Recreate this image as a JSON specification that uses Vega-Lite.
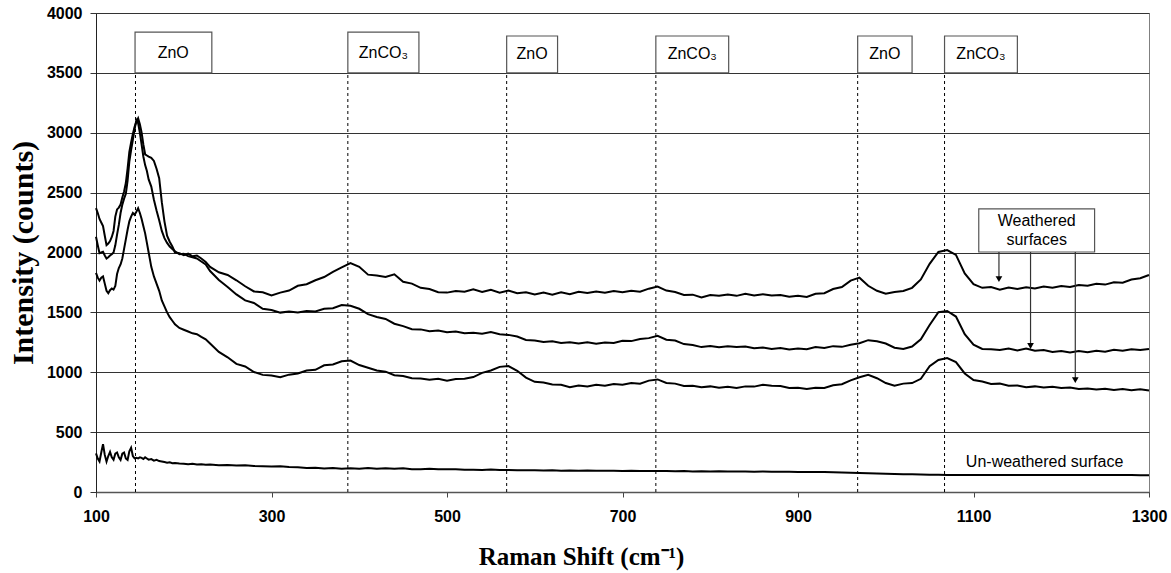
{
  "$schema": "https://vega.github.io/schema/vega-lite/v6.json",
  "autosize": {"type": "none"},
  "width": 1053,
  "height": 479,
  "padding": {"left": 96, "top": 13, "right": 22, "bottom": 81},
  "background": "white",
  "config": {"view": {"stroke": "#808080", "strokeWidth": 1}, "font": "Liberation Sans"},
  "datasets": {
    "spectra": [
      {"x":100,"A":2371,"B":2132,"C":1830,"D":323},
      {"x":102,"A":2330,"B":2060,"C":1790,"D":280},
      {"x":104,"A":2280,"B":1995,"C":1765,"D":255},
      {"x":106,"A":2250,"B":2000,"C":1790,"D":330},
      {"x":108,"A":2220,"B":2006,"C":1800,"D":400},
      {"x":110,"A":2140,"B":1975,"C":1740,"D":310},
      {"x":112,"A":2062,"B":1950,"C":1680,"D":253},
      {"x":114,"A":2075,"B":1960,"C":1660,"D":300},
      {"x":116,"A":2095,"B":1975,"C":1685,"D":335},
      {"x":118,"A":2130,"B":1985,"C":1700,"D":290},
      {"x":120,"A":2180,"B":2000,"C":1690,"D":270},
      {"x":122,"A":2300,"B":2060,"C":1720,"D":320},
      {"x":124,"A":2360,"B":2150,"C":1820,"D":330},
      {"x":126,"A":2375,"B":2230,"C":1870,"D":290},
      {"x":128,"A":2400,"B":2330,"C":1900,"D":268},
      {"x":130,"A":2460,"B":2400,"C":1950,"D":320},
      {"x":132,"A":2510,"B":2450,"C":2030,"D":330},
      {"x":134,"A":2580,"B":2490,"C":2110,"D":280},
      {"x":136,"A":2700,"B":2600,"C":2190,"D":268},
      {"x":138,"A":2840,"B":2760,"C":2260,"D":340},
      {"x":140,"A":2920,"B":2856,"C":2300,"D":370},
      {"x":142,"A":2990,"B":2940,"C":2330,"D":300},
      {"x":144,"A":3050,"B":3030,"C":2315,"D":281},
      {"x":146,"A":3090,"B":3106,"C":2340,"D":285},
      {"x":148,"A":3120,"B":3080,"C":2370,"D":281},
      {"x":150,"A":3070,"B":3000,"C":2330,"D":290},
      {"x":152,"A":3000,"B":2900,"C":2280,"D":285},
      {"x":154,"A":2900,"B":2800,"C":2220,"D":275},
      {"x":156,"A":2820,"B":2730,"C":2160,"D":290},
      {"x":158,"A":2810,"B":2680,"C":2080,"D":280},
      {"x":160,"A":2800,"B":2610,"C":2000,"D":270},
      {"x":163,"A":2790,"B":2550,"C":1880,"D":275},
      {"x":166,"A":2765,"B":2440,"C":1800,"D":262},
      {"x":169,"A":2700,"B":2350,"C":1740,"D":268},
      {"x":172,"A":2620,"B":2270,"C":1680,"D":258},
      {"x":175,"A":2420,"B":2180,"C":1600,"D":255},
      {"x":178,"A":2260,"B":2120,"C":1550,"D":250},
      {"x":181,"A":2140,"B":2080,"C":1500,"D":245},
      {"x":184,"A":2090,"B":2050,"C":1460,"D":248},
      {"x":187,"A":2050,"B":2030,"C":1430,"D":240},
      {"x":190,"A":2000,"B":2010,"C":1400,"D":242},
      {"x":195,"A":1995,"B":1985,"C":1370,"D":238},
      {"x":200,"A":1978,"B":1990,"C":1355,"D":236},
      {"x":205,"A":1990,"B":1970,"C":1340,"D":232},
      {"x":210,"A":1968,"B":1960,"C":1325,"D":236},
      {"x":215,"A":1975,"B":1950,"C":1318,"D":230},
      {"x":220,"A":1950,"B":1925,"C":1295,"D":231},
      {"x":225,"A":1920,"B":1900,"C":1275,"D":227},
      {"x":230,"A":1880,"B":1845,"C":1240,"D":229},
      {"x":240,"A":1835,"B":1770,"C":1170,"D":224},
      {"x":250,"A":1812,"B":1712,"C":1125,"D":226},
      {"x":260,"A":1768,"B":1650,"C":1070,"D":221},
      {"x":270,"A":1718,"B":1600,"C":1048,"D":224},
      {"x":280,"A":1675,"B":1578,"C":1002,"D":218},
      {"x":290,"A":1668,"B":1530,"C":978,"D":216},
      {"x":300,"A":1642,"B":1520,"C":972,"D":213},
      {"x":310,"A":1665,"B":1498,"C":958,"D":216},
      {"x":320,"A":1682,"B":1508,"C":980,"D":209},
      {"x":330,"A":1722,"B":1500,"C":990,"D":206},
      {"x":340,"A":1735,"B":1512,"C":1015,"D":201},
      {"x":350,"A":1768,"B":1508,"C":1020,"D":203},
      {"x":360,"A":1795,"B":1530,"C":1058,"D":197},
      {"x":370,"A":1838,"B":1535,"C":1065,"D":201},
      {"x":380,"A":1875,"B":1562,"C":1092,"D":194},
      {"x":390,"A":1912,"B":1555,"C":1098,"D":199},
      {"x":400,"A":1880,"B":1530,"C":1060,"D":195},
      {"x":410,"A":1815,"B":1485,"C":1038,"D":201},
      {"x":420,"A":1808,"B":1462,"C":1015,"D":194},
      {"x":430,"A":1795,"B":1445,"C":1005,"D":199},
      {"x":440,"A":1818,"B":1405,"C":975,"D":194},
      {"x":450,"A":1755,"B":1385,"C":968,"D":198},
      {"x":460,"A":1740,"B":1360,"C":950,"D":191},
      {"x":470,"A":1705,"B":1358,"C":948,"D":191},
      {"x":480,"A":1695,"B":1342,"C":938,"D":194},
      {"x":490,"A":1668,"B":1348,"C":945,"D":189},
      {"x":500,"A":1665,"B":1335,"C":930,"D":189},
      {"x":510,"A":1678,"B":1340,"C":943,"D":190},
      {"x":520,"A":1672,"B":1325,"C":945,"D":185},
      {"x":530,"A":1692,"B":1330,"C":960,"D":186},
      {"x":540,"A":1670,"B":1322,"C":995,"D":183},
      {"x":550,"A":1688,"B":1335,"C":1015,"D":187},
      {"x":560,"A":1665,"B":1318,"C":1045,"D":183},
      {"x":570,"A":1682,"B":1312,"C":1052,"D":183},
      {"x":580,"A":1660,"B":1298,"C":1012,"D":182},
      {"x":590,"A":1668,"B":1270,"C":955,"D":181},
      {"x":600,"A":1650,"B":1265,"C":920,"D":182},
      {"x":610,"A":1665,"B":1252,"C":915,"D":179},
      {"x":620,"A":1648,"B":1258,"C":898,"D":181},
      {"x":630,"A":1668,"B":1245,"C":895,"D":178},
      {"x":640,"A":1652,"B":1250,"C":875,"D":180},
      {"x":650,"A":1672,"B":1240,"C":890,"D":177},
      {"x":660,"A":1662,"B":1250,"C":882,"D":179},
      {"x":670,"A":1675,"B":1238,"C":896,"D":177},
      {"x":680,"A":1665,"B":1248,"C":888,"D":178},
      {"x":690,"A":1678,"B":1245,"C":902,"D":177},
      {"x":700,"A":1668,"B":1262,"C":895,"D":176},
      {"x":710,"A":1680,"B":1260,"C":910,"D":177},
      {"x":720,"A":1672,"B":1278,"C":905,"D":175},
      {"x":730,"A":1698,"B":1285,"C":930,"D":176},
      {"x":740,"A":1715,"B":1305,"C":940,"D":175},
      {"x":750,"A":1682,"B":1272,"C":910,"D":175},
      {"x":760,"A":1670,"B":1265,"C":905,"D":173},
      {"x":770,"A":1645,"B":1235,"C":885,"D":175},
      {"x":780,"A":1648,"B":1228,"C":888,"D":172},
      {"x":790,"A":1625,"B":1210,"C":875,"D":174},
      {"x":800,"A":1645,"B":1220,"C":882,"D":171},
      {"x":810,"A":1638,"B":1208,"C":870,"D":173},
      {"x":820,"A":1650,"B":1218,"C":878,"D":171},
      {"x":830,"A":1638,"B":1210,"C":868,"D":171},
      {"x":840,"A":1655,"B":1215,"C":882,"D":172},
      {"x":850,"A":1642,"B":1200,"C":880,"D":170},
      {"x":860,"A":1652,"B":1206,"C":895,"D":171},
      {"x":870,"A":1640,"B":1195,"C":888,"D":170},
      {"x":880,"A":1645,"B":1202,"C":885,"D":169},
      {"x":890,"A":1630,"B":1190,"C":868,"D":170},
      {"x":900,"A":1638,"B":1198,"C":870,"D":168},
      {"x":910,"A":1628,"B":1192,"C":860,"D":168},
      {"x":920,"A":1655,"B":1210,"C":870,"D":167},
      {"x":930,"A":1660,"B":1202,"C":868,"D":166},
      {"x":940,"A":1695,"B":1218,"C":892,"D":165},
      {"x":950,"A":1712,"B":1212,"C":900,"D":163},
      {"x":960,"A":1765,"B":1230,"C":932,"D":160},
      {"x":970,"A":1790,"B":1242,"C":958,"D":158},
      {"x":980,"A":1722,"B":1268,"C":978,"D":156},
      {"x":990,"A":1680,"B":1258,"C":950,"D":154},
      {"x":1000,"A":1655,"B":1240,"C":910,"D":152},
      {"x":1010,"A":1670,"B":1205,"C":888,"D":150},
      {"x":1020,"A":1678,"B":1195,"C":905,"D":149},
      {"x":1030,"A":1705,"B":1215,"C":910,"D":148},
      {"x":1040,"A":1775,"B":1275,"C":945,"D":147},
      {"x":1050,"A":1905,"B":1395,"C":1050,"D":145},
      {"x":1060,"A":2005,"B":1502,"C":1102,"D":144},
      {"x":1070,"A":2020,"B":1512,"C":1118,"D":143},
      {"x":1080,"A":1980,"B":1465,"C":1085,"D":142},
      {"x":1090,"A":1825,"B":1318,"C":990,"D":143},
      {"x":1100,"A":1735,"B":1230,"C":935,"D":142},
      {"x":1110,"A":1705,"B":1195,"C":922,"D":143},
      {"x":1120,"A":1712,"B":1192,"C":902,"D":142},
      {"x":1130,"A":1690,"B":1185,"C":905,"D":143},
      {"x":1140,"A":1708,"B":1198,"C":888,"D":142},
      {"x":1150,"A":1695,"B":1182,"C":890,"D":141},
      {"x":1160,"A":1710,"B":1198,"C":875,"D":142},
      {"x":1170,"A":1700,"B":1180,"C":882,"D":142},
      {"x":1180,"A":1715,"B":1185,"C":872,"D":141},
      {"x":1190,"A":1705,"B":1170,"C":878,"D":142},
      {"x":1200,"A":1720,"B":1178,"C":868,"D":142},
      {"x":1210,"A":1712,"B":1165,"C":872,"D":141},
      {"x":1220,"A":1728,"B":1178,"C":860,"D":142},
      {"x":1230,"A":1722,"B":1168,"C":865,"D":141},
      {"x":1240,"A":1738,"B":1180,"C":855,"D":141},
      {"x":1250,"A":1732,"B":1172,"C":862,"D":142},
      {"x":1260,"A":1752,"B":1188,"C":852,"D":141},
      {"x":1270,"A":1748,"B":1180,"C":860,"D":142},
      {"x":1280,"A":1775,"B":1192,"C":850,"D":141},
      {"x":1290,"A":1785,"B":1185,"C":858,"D":140},
      {"x":1300,"A":1812,"B":1195,"C":848,"D":140}
    ],
    "peaks": [{"x":145},{"x":387},{"x":568},{"x":738},{"x":968},{"x":1067}],
    "boxes": [
      {"x":144.5,"x2":232,"y":3500,"y2":3841,"label":"ZnO","xc":188,"yc":3665},
      {"x":387,"x2":468,"y":3500,"y2":3841,"label":"ZnCO₃","xc":427.5,"yc":3665},
      {"x":568,"x2":626,"y":3500,"y2":3808,"label":"ZnO","xc":597,"yc":3655},
      {"x":738,"x2":821,"y":3500,"y2":3808,"label":"ZnCO₃","xc":779.5,"yc":3655},
      {"x":968,"x2":1030,"y":3500,"y2":3808,"label":"ZnO","xc":999,"yc":3655},
      {"x":1067,"x2":1150,"y":3500,"y2":3808,"label":"ZnCO₃","xc":1108.5,"yc":3655}
    ],
    "notes": [
      {"x":1172,"y":2263,"t":"Weathered"},
      {"x":1172,"y":2104,"t":"surfaces"},
      {"x":1181,"y":253,"t":"Un-weathered surface"}
    ],
    "arrows": [
      {"x":1129,"y":2004,"y2":1770,"tip":1778},
      {"x":1165,"y":2004,"y2":1210,"tip":1219},
      {"x":1216,"y":2004,"y2":926,"tip":935}
    ]
  },
  "layer": [
    {
      "data": {"name": "spectra"},
      "transform": [{"fold": ["A", "B", "C", "D"], "as": ["s", "v"]}],
      "mark": {"type": "line", "color": "black", "strokeWidth": 2},
      "encoding": {
        "x": {"field": "x", "type": "quantitative",
          "scale": {"domain": [100, 1300], "nice": false, "zero": false},
          "axis": {"values": [100, 300, 500, 700, 900, 1100, 1300], "format": "d", "title": "Raman Shift (cm⁻¹)", "grid": false,
            "tickSize": 5, "tickColor": "#444", "domainColor": "#555", "domainWidth": 1.5,
            "labelFont": "Liberation Sans", "labelFontSize": 16, "labelFontWeight": "bold", "labelColor": "black",
            "labelPadding": 11, "labelFlush": false,
            "titleFont": "Liberation Serif", "titleFontSize": 25, "titleFontWeight": "bold", "titleColor": "black",
            "titleX": 485, "titleY": 72, "titleBaseline": "alphabetic", "titleAlign": "center"}},
        "y": {"field": "v", "type": "quantitative",
          "scale": {"domain": [0, 4000], "nice": false},
          "axis": {"values": [0, 500, 1000, 1500, 2000, 2500, 3000, 3500, 4000], "format": "d", "title": "Intensity (counts)",
            "grid": true, "gridColor": "#333", "gridWidth": 1,
            "tickSize": 6, "tickColor": "#333", "domainColor": "#222",
            "labelFont": "Liberation Sans", "labelFontSize": 16, "labelFontWeight": "bold", "labelColor": "black",
            "labelPadding": 8,
            "titleFont": "Liberation Serif", "titleFontSize": 30, "titleFontWeight": "bold", "titleColor": "black",
            "titleX": -58, "titleY": 239.5, "titleBaseline": "bottom", "titleAlign": "center", "titleAngle": -90}},
        "detail": {"field": "s"}
      }
    },
    {
      "data": {"name": "peaks"},
      "mark": {"type": "rule", "color": "black", "strokeDash": [3, 3], "strokeWidth": 1},
      "encoding": {
        "x": {"field": "x", "type": "quantitative"},
        "y": {"datum": 0, "type": "quantitative"},
        "y2": {"datum": 3500}
      }
    },
    {
      "data": {"name": "boxes"},
      "mark": {"type": "rect", "fill": "white", "stroke": "#555", "strokeWidth": 1.2},
      "encoding": {
        "x": {"field": "x", "type": "quantitative"},
        "x2": {"field": "x2"},
        "y": {"field": "y", "type": "quantitative"},
        "y2": {"field": "y2"}
      }
    },
    {
      "data": {"name": "boxes"},
      "mark": {"type": "text", "font": "Liberation Sans", "fontSize": 16, "color": "black", "align": "center", "baseline": "middle"},
      "encoding": {
        "x": {"field": "xc", "type": "quantitative"},
        "y": {"field": "yc", "type": "quantitative"},
        "text": {"field": "label"}
      }
    },
    {
      "data": {"values": [{"x": 1106, "x2": 1238, "y": 2004, "y2": 2365}]},
      "mark": {"type": "rect", "fill": "white", "stroke": "#555", "strokeWidth": 1.2},
      "encoding": {
        "x": {"field": "x", "type": "quantitative"},
        "x2": {"field": "x2"},
        "y": {"field": "y", "type": "quantitative"},
        "y2": {"field": "y2"}
      }
    },
    {
      "data": {"name": "notes"},
      "mark": {"type": "text", "font": "Liberation Sans", "fontSize": 16, "color": "black", "align": "center", "baseline": "middle"},
      "encoding": {
        "x": {"field": "x", "type": "quantitative"},
        "y": {"field": "y", "type": "quantitative"},
        "text": {"field": "t"}
      }
    },
    {
      "data": {"name": "arrows"},
      "mark": {"type": "rule", "color": "#333", "strokeWidth": 1.2},
      "encoding": {
        "x": {"field": "x", "type": "quantitative"},
        "y": {"field": "y", "type": "quantitative"},
        "y2": {"field": "y2"}
      }
    },
    {
      "data": {"name": "arrows"},
      "mark": {"type": "point", "shape": "triangle-down", "filled": true, "color": "black", "size": 45, "opacity": 1},
      "encoding": {
        "x": {"field": "x", "type": "quantitative"},
        "y": {"field": "tip", "type": "quantitative"}
      }
    }
  ]
}
